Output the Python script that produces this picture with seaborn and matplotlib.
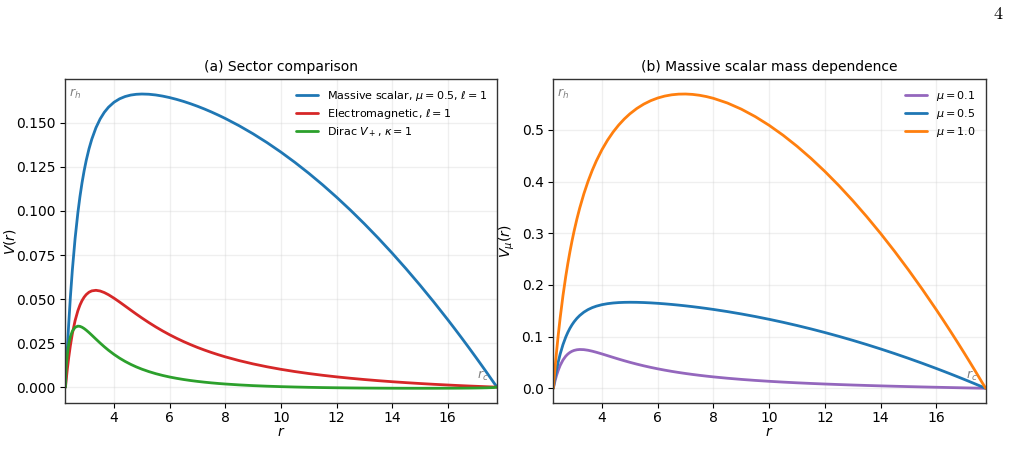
import matplotlib
matplotlib.use("Agg")
import matplotlib.pyplot as plt
import seaborn as sns
import pandas as pd

# radial grid between horizons (r_h ~ 2.25, r_c ~ 17.77)
r = [2.2545, 2.262, 2.28, 2.32, 2.37, 2.43, 2.5, 2.6, 2.7, 2.775,
     2.85, 2.925, 3.0, 3.1, 3.2, 3.35, 3.5, 3.65, 3.8, 4.0,
     4.2, 4.4, 4.6, 4.8, 5.0, 5.25, 5.5, 5.75, 6.0, 6.25,
     6.5, 6.75, 7.0, 7.25, 7.5, 7.75, 8.0, 8.5, 9.0, 9.5,
     10.0, 10.5, 11.0, 11.5, 12.0, 12.5, 13.0, 13.5, 14.0, 14.5,
     15.0, 15.5, 16.0, 16.25, 16.5, 16.75, 17.0, 17.2, 17.4, 17.65,
     17.77]

v_scalar_05 = [0, 0.00262, 0.00874, 0.02148, 0.03579, 0.05096, 0.06624, 0.08439, 0.09905, 0.10821,
               0.11608, 0.12285, 0.12870, 0.13530, 0.14076, 0.14728, 0.15224, 0.15603, 0.15892, 0.16176,
               0.16370, 0.16500, 0.16582, 0.16626, 0.16642, 0.16629, 0.16588, 0.16523, 0.16439, 0.16337,
               0.16221, 0.16090, 0.15947, 0.15791, 0.15623, 0.15443, 0.15253, 0.14839, 0.14382, 0.13884,
               0.13344, 0.12764, 0.12144, 0.11485, 0.10786, 0.10049, 0.09273, 0.08459, 0.07607, 0.06718,
               0.05791, 0.04827, 0.03826, 0.03311, 0.02788, 0.02255, 0.01713, 0.01273, 0.00828, 0.00262,
               0]
v_em = [0, 0.00123, 0.00415, 0.01013, 0.01674, 0.02357, 0.03024, 0.03776, 0.04338, 0.04660,
        0.04913, 0.05108, 0.05255, 0.05388, 0.05464, 0.05497, 0.05458, 0.05369, 0.05246, 0.05049,
        0.04831, 0.04603, 0.04374, 0.04147, 0.03928, 0.03666, 0.03419, 0.03188, 0.02972, 0.02772,
        0.02586, 0.02414, 0.02253, 0.02105, 0.01967, 0.01839, 0.01719, 0.01505, 0.01318, 0.01155,
        0.01011, 0.00884, 0.00772, 0.00672, 0.00583, 0.00503, 0.00431, 0.00366, 0.00307, 0.00254,
        0.00205, 0.00160, 0.00120, 0.00100, 0.00082, 0.00064, 0.00048, 0.00035, 0.00022, 0.00007,
        0]
v_dirac = [0, 0.0059, 0.01141, 0.01861, 0.02423, 0.02858, 0.0317, 0.03395, 0.03463, 0.0345,
           0.034, 0.03326, 0.03235, 0.03098, 0.02951, 0.02725, 0.02503, 0.02292, 0.02095, 0.01857,
           0.01645, 0.01458, 0.01293, 0.01148, 0.01021, 0.00883, 0.00764, 0.00662, 0.00574, 0.00499,
           0.00433, 0.00375, 0.00325, 0.00281, 0.00242, 0.00207, 0.00177, 0.00126, 0.00085, 0.00053,
           0.00027, 0.00006, -0.00012, -0.00026, -0.00037, -0.00046, -0.00053, -0.00058, -0.00062, -0.00064,
           -0.00065, -0.00065, -0.00062, -0.00061, -0.00058, -0.00055, -0.0005, -0.00045, -0.00038, -0.00024,
           0]
v_scalar_01 = [0, 0.00188, 0.00624, 0.01515, 0.02487, 0.03477, 0.04423, 0.05462, 0.06211, 0.06624,
               0.06936, 0.07165, 0.07325, 0.07453, 0.07504, 0.07474, 0.07355, 0.07177, 0.06962, 0.06644,
               0.0631, 0.05973, 0.05644, 0.05328, 0.05026, 0.04672, 0.04344, 0.04042, 0.03764, 0.03508,
               0.03273, 0.03057, 0.02858, 0.02674, 0.02505, 0.02348, 0.02203, 0.01943, 0.01717, 0.0152,
               0.01347, 0.01193, 0.01056, 0.00933, 0.00822, 0.00721, 0.00628, 0.00543, 0.00464, 0.0039,
               0.00321, 0.00257, 0.00195, 0.00166, 0.00137, 0.00109, 0.00081, 0.00059, 0.00038, 0.00012,
               0]
v_scalar_10 = [0, 0.00498, 0.01676, 0.04172, 0.0707, 0.10264, 0.13641, 0.17914, 0.21645, 0.24144,
               0.26424, 0.28511, 0.30428, 0.32753, 0.34849, 0.37628, 0.40043, 0.42157, 0.44017, 0.46169,
               0.48007, 0.49583, 0.50938, 0.52102, 0.53099, 0.54141, 0.54984, 0.55652, 0.56164, 0.56538,
               0.56785, 0.56915, 0.56939, 0.56864, 0.56696, 0.56440, 0.56104, 0.55200, 0.54014, 0.52567,
               0.50877, 0.48960, 0.46827, 0.44488, 0.41951, 0.39222, 0.36308, 0.33215, 0.29945, 0.26503,
               0.22893, 0.19117, 0.15178, 0.13147, 0.11077, 0.08967, 0.06817, 0.0507, 0.03297, 0.01045,
               0]

left_series = [("Massive scalar, $\\mu=0.5$, $\\ell=1$", v_scalar_05, "#1f77b4"),
               ("Electromagnetic, $\\ell=1$", v_em, "#d62728"),
               ("Dirac $V_+$, $\\kappa=1$", v_dirac, "#2ca02c")]
right_series = [("$\\mu=0.1$", v_scalar_01, "#9467bd"),
                ("$\\mu=0.5$", v_scalar_05, "#1f77b4"),
                ("$\\mu=1.0$", v_scalar_10, "#ff7f0e")]

sns.set_theme(style="ticks", rc={"axes.edgecolor": "0.2", "axes.linewidth": 1.0,
                                 "xtick.major.size": 3.5, "ytick.major.size": 3.5,
                                 "xtick.major.width": 0.8, "ytick.major.width": 0.8,
                                 "text.color": "black", "axes.labelcolor": "black",
                                 "xtick.color": "black", "ytick.color": "black"})
plt.rcParams["font.family"] = ["DejaVu Sans"]

fig = plt.figure(figsize=(10.09, 4.76), dpi=100)
ax1 = fig.add_axes([0.0649, 0.1534, 0.4277, 0.680])
ax2 = fig.add_axes([0.5484, 0.1534, 0.4285, 0.680])

def draw(ax, series, title, ylabel, ylab_x):
    for label, vals, color in series:
        df = pd.DataFrame({"r": r, "V": vals})
        sns.lineplot(data=df, x="r", y="V", ax=ax, color=color, lw=2, label=label,
                     estimator=None, sort=False)
    ax.set_xlim(r[0], r[-1])
    ax.grid(True, alpha=0.3)
    ax.set_title(title, fontsize=10)
    ax.set_xlabel("$r$", fontsize=10, labelpad=0)
    ax.set_ylabel(ylabel, fontsize=10)
    ax.yaxis.set_label_coords(ylab_x, 0.5)
    ax.tick_params(labelsize=10)
    ax.tick_params(axis="x", pad=2)
    ax.legend(loc="upper right", frameon=False, fontsize=8, labelspacing=0.35)
    ax.text(0.008, 0.975, "$r_h$", transform=ax.transAxes, ha="left", va="top",
            fontsize=9, color="gray")
    ax.text(0.982, 0.062, "$r_c$", transform=ax.transAxes, ha="right", va="bottom",
            fontsize=9, color="gray")

draw(ax1, left_series, "(a) Sector comparison", "$V(r)$", -0.111)
draw(ax2, right_series, "(b) Massive scalar mass dependence", "$V_\\mu(r)$", -0.084)

fig.text(0.9935, 0.985, "4", family="cmr10", fontsize=13, ha="right", va="top")

fig.savefig("out.png", dpi=100)
